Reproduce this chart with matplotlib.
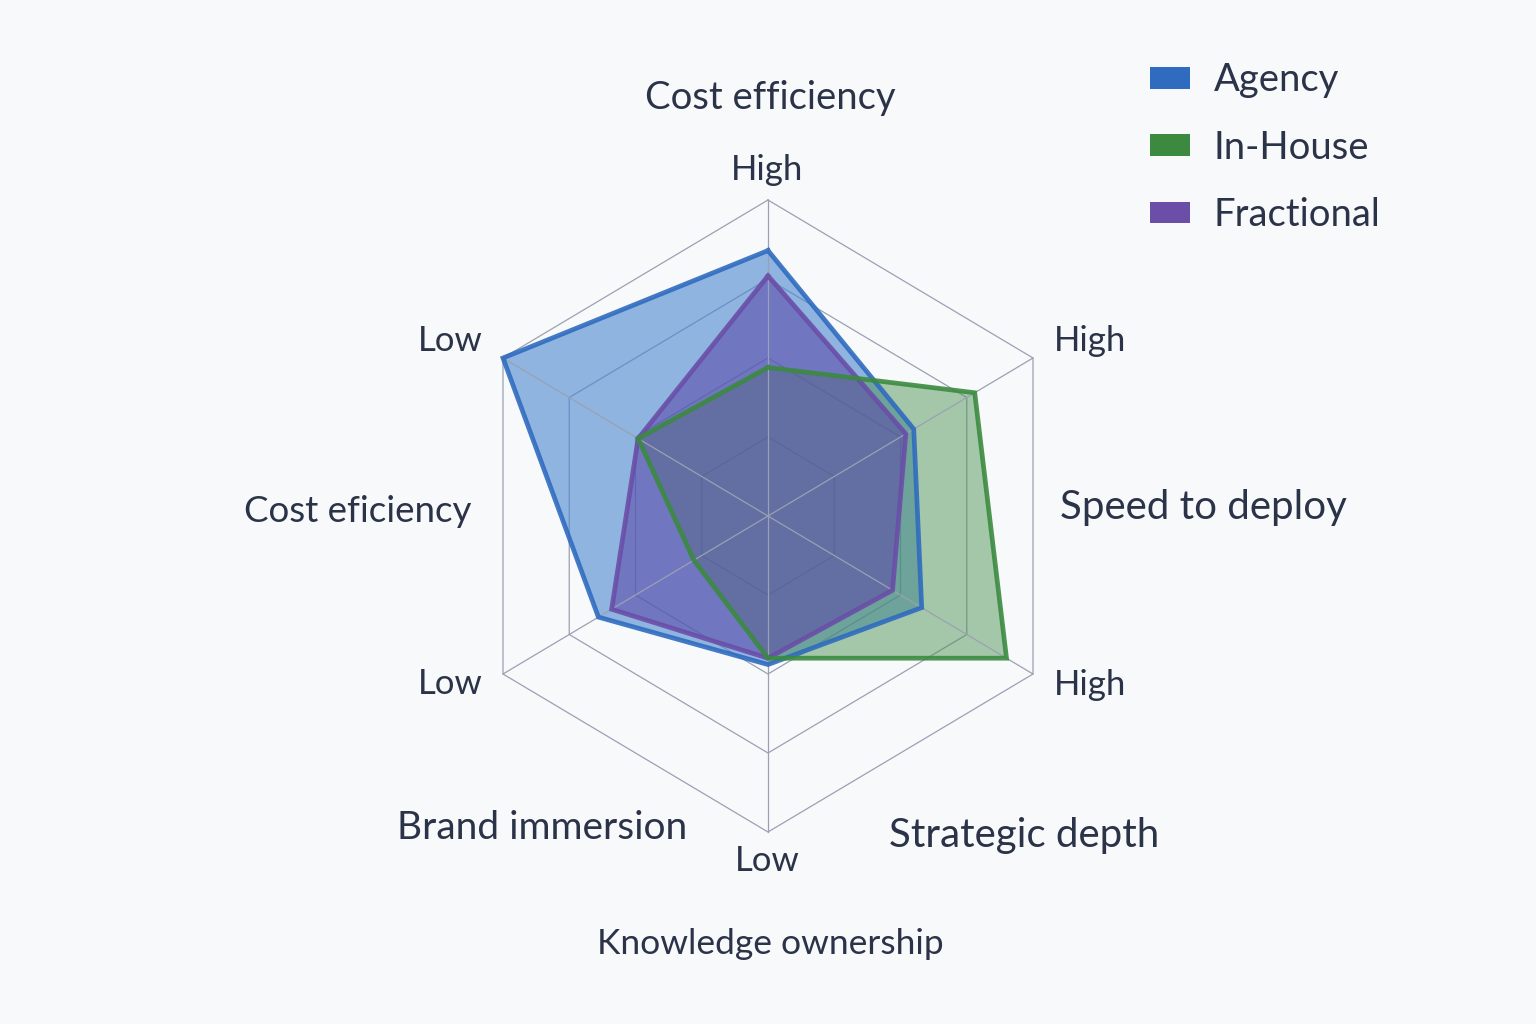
import numpy as np
import matplotlib.pyplot as plt
from matplotlib.patches import Patch

# radar axes, clockwise from the top
axis_names = ['Cost efficiency', 'Speed to deploy', 'Strategic depth',
              'Knowledge ownership', 'Brand immersion', 'Cost eficiency']
end_labels = ['High', 'High', 'High', 'Low', 'Low', 'Low']
series_names = ['Agency', 'In-House', 'Fractional']
agency = [0.84, 0.55, 0.58, 0.47, 0.64, 1.00]
in_house = [0.47, 0.78, 0.90, 0.45, 0.28, 0.49]
fractional = [0.76, 0.52, 0.47, 0.45, 0.59, 0.49]
ring_levels = [0.25, 0.5, 0.75, 1.0]

text_color = '#2b3348'
grid_color = '#9aa1b3'
edge_colors = {'Agency': '#2f6bbf', 'In-House': '#3b8a40', 'Fractional': '#6a4ea8'}
fill_colors = {'Agency': '#4a86cf', 'In-House': '#4a9150', 'Fractional': '#5a44a8'}
fill_alpha = {'Agency': 0.6, 'In-House': 0.48, 'Fractional': 0.55}

plt.rcParams['font.family'] = ['Lato', 'DejaVu Sans']

fig = plt.figure(figsize=(15.36, 10.24), dpi=100, facecolor='#f8f9fb')
ax = fig.add_axes([0, 0, 1, 1])
ax.set_facecolor('#f8f9fb')
ax.set_xlim(-768 / 306, 768 / 306)
ax.set_ylim(-508 / 316, 516 / 316)
ax.axis('off')

angles = np.deg2rad([90, 30, -30, -90, -150, 150])


def to_xy(values):
    v = np.asarray(values, dtype=float)
    x = v * np.cos(angles)
    y = v * np.sin(angles)
    return np.append(x, x[0]), np.append(y, y[0])


# hexagon grid and spokes
for lvl in ring_levels:
    gx, gy = to_xy([lvl] * 6)
    ax.plot(gx, gy, color=grid_color, lw=0.9, zorder=1)
for a in angles:
    ax.plot([0, np.cos(a)], [0, np.sin(a)], color=grid_color, lw=0.9, zorder=6)

# series: fills first, outlines on top
data = {'Agency': agency, 'In-House': in_house, 'Fractional': fractional}
for i, (name, vals) in enumerate(data.items()):
    px, py = to_xy(vals)
    ax.fill(px, py, color=fill_colors[name], alpha=fill_alpha[name], lw=0, zorder=2 + i)
line_order = ['Agency', 'Fractional', 'In-House']
for i, name in enumerate(line_order):
    px, py = to_xy(data[name])
    ax.plot(px, py, color=edge_colors[name], lw=3.4, alpha=0.9, zorder=7 + i,
            solid_joinstyle='miter')


def pix(px, py):
    return (px - 768) / 306, (516 - py) / 316


# end labels (High / Low) near the outer vertices
end_pos = [(767, 170), (1090, 341), (1090, 685), (767, 861), (450, 684), (450, 341)]
for lab, (px, py) in zip(end_labels, end_pos):
    x, y = pix(px, py)
    ax.text(x, y, lab, ha='center', va='center', fontsize=25, color=text_color)

# category names
name_pos = [(770, 98), (1203, 508), (1024, 835), (770, 944), (542, 828), (358, 512)]
name_size = [27.5, 29, 29, 25.5, 28, 26.5]
for lab, (px, py), fs in zip(axis_names, name_pos, name_size):
    x, y = pix(px, py)
    ax.text(x, y, lab, ha='center', va='center', fontsize=fs, color=text_color)

handles = [Patch(facecolor=edge_colors[n], edgecolor='none') for n in series_names]
leg = fig.legend(handles, series_names, loc='upper left',
                 bbox_to_anchor=(1116 / 1536, 1 - 28 / 1024), frameon=False,
                 fontsize=27.5, handlelength=1.05, handleheight=0.5,
                 labelspacing=0.82, handletextpad=0.6)
for t in leg.get_texts():
    t.set_color(text_color)

fig.savefig('out.png', dpi=100, facecolor=fig.get_facecolor())
